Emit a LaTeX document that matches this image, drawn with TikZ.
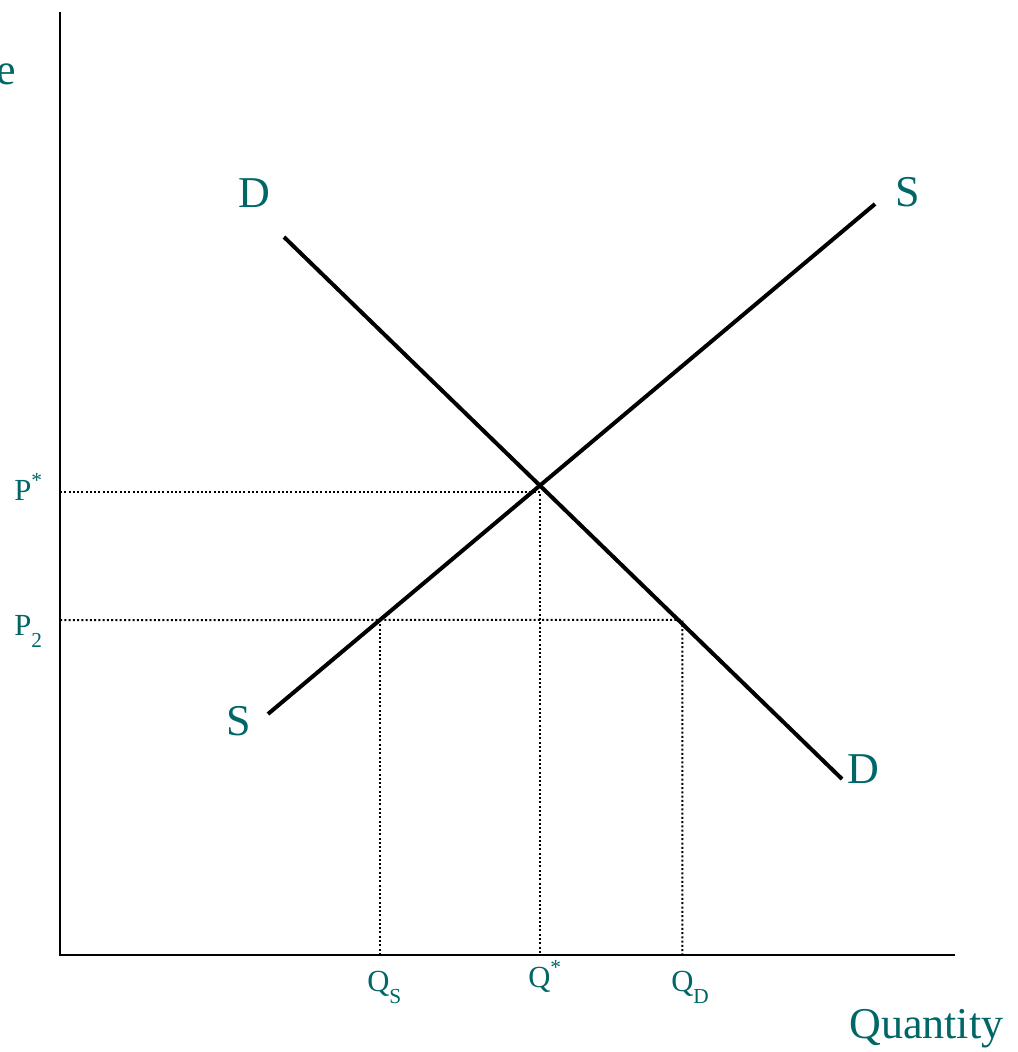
\documentclass[tikz,border=0pt]{standalone}
\usepackage{fontspec}
\setmainfont{Liberation Serif}
\usepackage{tikz}
\definecolor{labelteal}{RGB}{0,102,102}
\newcommand{\lowsub}[1]{\raisebox{-9pt}{\fontsize{16}{18}\selectfont #1}}

\begin{document}
\begin{tikzpicture}[x=0.75pt, y=-0.75pt,
  axis/.style={line width=2.2pt},
  curve/.style={line width=3pt},
  guide/.style={line width=1.5pt, dash pattern=on 1.5pt off 1.7pt},
  biglabel/.style={text=labelteal, font=\fontsize{33}{36}\selectfont, inner sep=0pt},
  smalllabel/.style={text=labelteal, font=\fontsize{23}{26}\selectfont, inner sep=0pt}]
\useasboundingbox (0,0) rectangle (1017,1052);
% axes
\coordinate (origin) at (60,955);
\coordinate (ytop) at (60,12);
\coordinate (xend) at (955,955);
\draw[axis] (ytop) -- (origin) -- (xend);
% demand and supply
\coordinate (d1) at (284,237);
\coordinate (d2) at (842,779);
\coordinate (s1) at (268,714);
\coordinate (s2) at (875,204);
\draw[curve] (d1) -- (d2);
\draw[curve] (s1) -- (s2);
\coordinate (eq) at (intersection of d1--d2 and s1--s2);
\coordinate (pstar) at (60,492);
\coordinate (ptwo) at (60,620);
\path (ptwo) -- +(900,0) coordinate (pfar);
\coordinate (qs) at (intersection of s1--s2 and ptwo--pfar);
\coordinate (qd) at (intersection of d1--d2 and ptwo--pfar);
% dotted guides
\draw[guide] (pstar) -- (eq |- pstar) -- (eq |- origin);
\draw[guide] (ptwo) -- ([xshift=3]qd) -- ([xshift=3]qd |- origin);
\draw[guide] (qs) -- (qs |- origin);
% labels
\node[biglabel, anchor=base east] (price) at (16,85) {Price};
\node[biglabel, anchor=base west] (qty) at (849,1038) {Quantity};
\node[biglabel, anchor=base west] (dtop) at (238,207) {D};
\node[biglabel, anchor=base west] (dbot) at (847,783) {D};
\node[biglabel, anchor=base west] (stop) at (895,206) {S};
\node[biglabel, anchor=base west] (sbot) at (226,735) {S};
\node[smalllabel, anchor=base west] (pstarlab) at (14,500) {P\textsuperscript{*}};
\node[smalllabel, anchor=base west] (ptwolab) at (14,635) {P\lowsub{2}};
\node[smalllabel, anchor=base west] (qslab) at (367,991) {Q\lowsub{S}};
\node[smalllabel, anchor=base west] (qstarlab) at (528,987) {Q\textsuperscript{*}};
\node[smalllabel, anchor=base west] (qdlab) at (671,991) {Q\lowsub{D}};
\end{tikzpicture}
\end{document}
